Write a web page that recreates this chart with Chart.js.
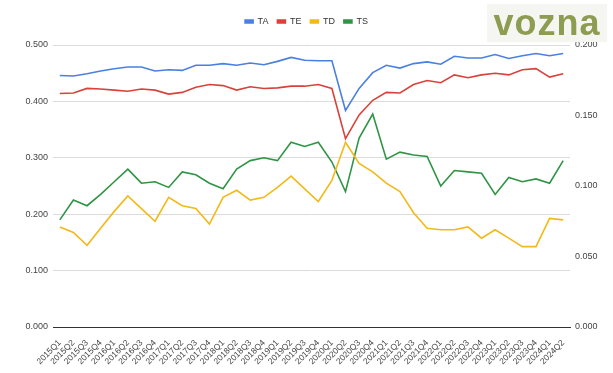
<!DOCTYPE html>
<html>
<head>
<meta charset="utf-8">
<script src="https://cdn.jsdelivr.net/npm/chart.js@4"></script>
<style>
  html, body { margin: 0; padding: 0; background: #fff; }
  #wrap { position: relative; width: 613px; height: 373px; }
  #logo {
    position: absolute; left: 487px; top: 4px; width: 120px; height: 38px;
    background: #f5f5f1; color: #8c9c50;
    font: bold 36px "Liberation Sans", Arial, sans-serif;
    letter-spacing: 1px; text-align: center; line-height: 38px;
  }
</style>
</head>
<body>
<div id="wrap">
  <canvas id="trendChart" width="613" height="373"></canvas>
  <div id="logo">vozna</div>
</div>
<script>
const quarters = [
  "2015Q1", "2015Q2", "2015Q3", "2015Q4", "2016Q1", "2016Q2", "2016Q3", "2016Q4",
  "2017Q1", "2017Q2", "2017Q3", "2017Q4", "2018Q1", "2018Q2", "2018Q3", "2018Q4",
  "2019Q1", "2019Q2", "2019Q3", "2019Q4", "2020Q1", "2020Q2", "2020Q3", "2020Q4",
  "2021Q1", "2021Q2", "2021Q3", "2021Q4", "2022Q1", "2022Q2", "2022Q3", "2022Q4",
  "2023Q1", "2023Q2", "2023Q3", "2023Q4", "2024Q1", "2024Q2",
];

// left axis
const taValues = [
  0.446, 0.445, 0.449, 0.454, 0.458, 0.461, 0.461, 0.454, 0.456, 0.455,
  0.464, 0.464, 0.467, 0.464, 0.468, 0.465, 0.471, 0.478, 0.473, 0.472,
  0.472, 0.384, 0.423, 0.451, 0.464, 0.459, 0.467, 0.470, 0.466, 0.480,
  0.477, 0.477, 0.483, 0.476, 0.481, 0.485, 0.481, 0.485,
];
const teValues = [
  0.414, 0.415, 0.423, 0.422, 0.420, 0.418, 0.422, 0.420, 0.413, 0.416,
  0.425, 0.430, 0.428, 0.420, 0.426, 0.423, 0.424, 0.427, 0.427, 0.430,
  0.423, 0.334, 0.376, 0.402, 0.416, 0.415, 0.430, 0.437, 0.433, 0.447,
  0.442, 0.447, 0.450, 0.447, 0.456, 0.458, 0.443, 0.449,
];

// right axis
const tdValues = [
  0.071, 0.067, 0.058, 0.070, 0.082, 0.093, 0.084, 0.075, 0.092, 0.086,
  0.084, 0.073, 0.092, 0.097, 0.090, 0.092, 0.099, 0.107, 0.098, 0.089,
  0.104, 0.131, 0.116, 0.110, 0.102, 0.096, 0.081, 0.070, 0.069, 0.069,
  0.071, 0.063, 0.069, 0.063, 0.057, 0.057, 0.077, 0.076,
];
const tsValues = [
  0.076, 0.090, 0.086, 0.094, 0.103, 0.112, 0.102, 0.103, 0.099, 0.110,
  0.108, 0.102, 0.098, 0.112, 0.118, 0.120, 0.118, 0.131, 0.128, 0.131,
  0.117, 0.096, 0.134, 0.151, 0.119, 0.124, 0.122, 0.121, 0.100, 0.111,
  0.110, 0.109, 0.094, 0.106, 0.103, 0.105, 0.102, 0.118,
];

const leftTicks = [0, 0.1, 0.2, 0.3, 0.4, 0.5];
const rightTicks = [0, 0.05, 0.1, 0.15, 0.2];

const tickFont = { family: "'Liberation Sans', Arial, sans-serif", size: 9 };

function series(label, data, color, axis) {
  return {
    label: label,
    data: data,
    yAxisID: axis,
    borderColor: color,
    backgroundColor: color,
    borderWidth: 1.6,
    pointRadius: 0,
    tension: 0,
  };
}

// fixed legend band above the plot, items nudged down a little
const legendBand = {
  id: "legendBand",
  beforeInit(chart) {
    const legend = chart.legend;
    const fit = legend.fit;
    legend.fit = function () {
      fit.bind(legend)();
      this.height = 45;
    };
    const draw = legend.draw;
    legend.draw = function () {
      const ctx = this.ctx;
      ctx.save();
      ctx.translate(0, 8);
      draw.call(legend);
      ctx.restore();
    };
  },
};

new Chart(document.getElementById("trendChart"), {
  type: "line",
  data: {
    labels: quarters,
    datasets: [
      series("TA", taValues, "#4a80e0", "y"),
      series("TE", teValues, "#d9423a", "y"),
      series("TD", tdValues, "#f2b918", "y2"),
      series("TS", tsValues, "#2f9444", "y2"),
    ],
  },
  options: {
    responsive: false,
    animation: false,
    layout: { padding: 0 },
    plugins: {
      legend: {
        position: "top",
        labels: {
          boxWidth: 8,
          boxHeight: 3,
          padding: 9,
          color: "#333",
          font: { family: "'Liberation Sans', Arial, sans-serif", size: 9 },
        },
      },
      tooltip: { enabled: false },
    },
    scales: {
      x: {
        offset: true,
        grid: { display: false },
        border: { display: true, color: "#333", width: 1 },
        ticks: {
          autoSkip: false,
          maxRotation: 45,
          minRotation: 45,
          padding: 3,
          color: "#444",
          font: { family: "'Liberation Sans', Arial, sans-serif", size: 8.5 },
        },
        afterFit(scale) { scale.height = 46; },
      },
      y: {
        position: "left",
        min: 0,
        max: 0.5,
        afterBuildTicks(scale) { scale.ticks = leftTicks.map(v => ({ value: v })); },
        grid: {
          color: ctx => (ctx.tick && ctx.tick.value === 0 ? "#333" : "#dcdcdc"),
          drawTicks: false,
        },
        border: { display: false },
        ticks: {
          padding: 5,
          color: "#444",
          font: tickFont,
          callback: v => v.toFixed(3),
        },
        afterFit(scale) { scale.width = 53; },
      },
      y2: {
        position: "right",
        min: 0,
        max: 0.2,
        afterBuildTicks(scale) { scale.ticks = rightTicks.map(v => ({ value: v })); },
        grid: { drawOnChartArea: false, drawTicks: false },
        border: { display: false },
        ticks: {
          padding: 5,
          color: "#444",
          font: tickFont,
          callback: v => v.toFixed(3),
        },
        afterFit(scale) { scale.width = 43; },
      },
    },
  },
  plugins: [legendBand],
});
</script>
</body>
</html>
